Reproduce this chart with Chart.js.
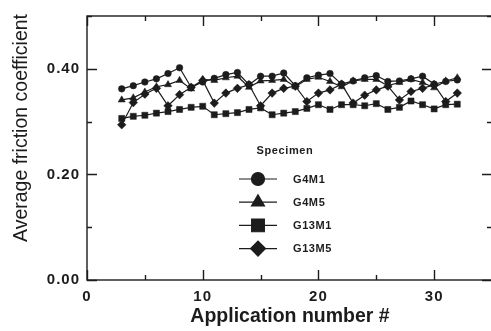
<!DOCTYPE html>
<html>
<head>
<meta charset="utf-8">
<script src="https://cdn.jsdelivr.net/npm/chart.js@4/dist/chart.umd.min.js"></script>
<style>
  html, body { margin: 0; padding: 0; background: #ffffff; overflow: hidden; }
  #wrap { width: 491px; height: 331px; overflow: hidden; position: relative; }
  #box { width: 500px; height: 331px; position: absolute; left: 0; top: 0; }
</style>
</head>
<body>
<div id="wrap"><div id="box"><canvas id="c"></canvas></div></div>
<script>
// Application numbers (x) and average friction coefficient per specimen
const applications = [3, 4, 5, 6, 7, 8, 9, 10, 11, 12, 13, 14, 15, 16, 17,
                      18, 19, 20, 21, 22, 23, 24, 25, 26, 27, 28, 29, 30, 31, 32];

const g4m1 = [0.362, 0.368, 0.375, 0.381, 0.391, 0.402, 0.365, 0.375, 0.382, 0.389,
              0.393, 0.370, 0.386, 0.386, 0.392, 0.368, 0.383, 0.388, 0.391, 0.371,
              0.377, 0.383, 0.387, 0.376, 0.377, 0.381, 0.386, 0.371, 0.376, 0.379];

const g4m5 = [0.341, 0.345, 0.356, 0.366, 0.370, 0.378, 0.362, 0.380, 0.378, 0.383,
              0.386, 0.365, 0.377, 0.378, 0.380, 0.366, 0.380, 0.384, 0.376, 0.366,
              0.377, 0.380, 0.380, 0.368, 0.374, 0.380, 0.374, 0.364, 0.377, 0.383];

const g13m1 = [0.306, 0.310, 0.312, 0.316, 0.319, 0.323, 0.327, 0.329, 0.313, 0.315,
               0.317, 0.323, 0.326, 0.313, 0.316, 0.319, 0.325, 0.332, 0.323, 0.332,
               0.332, 0.330, 0.334, 0.323, 0.327, 0.339, 0.332, 0.324, 0.332, 0.333];

const g13m5 = [0.294, 0.336, 0.352, 0.363, 0.330, 0.351, 0.365, 0.378, 0.335, 0.354,
               0.363, 0.370, 0.330, 0.354, 0.363, 0.367, 0.338, 0.354, 0.360, 0.371,
               0.335, 0.350, 0.360, 0.367, 0.341, 0.357, 0.363, 0.370, 0.338, 0.354];

const specimenNames = ['G4M1', 'G4M5', 'G13M1', 'G13M5'];
const specimenValues = [g4m1, g4m5, g13m1, g13m5];
const specimenMarkers = ['circle', 'triangle', 'rect', 'rectRot'];

const xTickValues = [0, 5, 10, 15, 20, 25, 30, 35];
const yTickValues = [0, 0.1, 0.2, 0.3, 0.4, 0.5];

const INK = '#1c1c1c';
const FONT = '"Liberation Sans", Arial, Helvetica, sans-serif';
const markerRadius = { circle: 3.3, triangle: 4.1, rect: 4.3, rectRot: 4.3 };
const legendRadius = { circle: 6.5, triangle: 7.5, rect: 9, rectRot: 7.5 };

const datasets = specimenNames.map((name, i) => ({
  label: name,
  data: applications.map((a, j) => ({ x: a, y: specimenValues[i][j] })),
  borderColor: INK,
  borderWidth: 1.2,
  backgroundColor: INK,
  pointStyle: specimenMarkers[i],
  pointRadius: markerRadius[specimenMarkers[i]],
  pointBackgroundColor: INK,
  pointBorderColor: INK,
  pointBorderWidth: 0.5,
  tension: 0,
  fill: false
}));

// Slightly spaced lettering for the tick labels
const spacing = {
  id: 'spacing',
  beforeDraw(chart) { chart.ctx.letterSpacing = '1px'; }
};

// Frame, inward tick marks, axis titles and the specimen key
const decorations = {
  id: 'decorations',
  afterDraw(chart) {
    const { ctx, chartArea: a, scales: { x, y } } = chart;
    ctx.save();
    ctx.strokeStyle = INK;
    ctx.lineWidth = 1.4;
    ctx.strokeRect(a.left, a.top, a.right - a.left, a.bottom - a.top);

    ctx.beginPath();
    xTickValues.forEach(v => {
      const px = Math.round(x.getPixelForValue(v)) + 0.5;
      const len = v % 10 === 0 ? 10 : 5;
      ctx.moveTo(px, a.bottom); ctx.lineTo(px, a.bottom - len);
      ctx.moveTo(px, a.top); ctx.lineTo(px, a.top + len);
    });
    yTickValues.forEach(v => {
      const py = Math.round(y.getPixelForValue(v)) + 0.5;
      const major = Math.round(v * 10) % 2 === 0;
      const len = major ? 10 : 5;
      ctx.moveTo(a.left, py); ctx.lineTo(a.left + len, py);
      ctx.moveTo(a.right, py); ctx.lineTo(a.right - len, py);
    });
    ctx.stroke();

    // axis titles
    ctx.letterSpacing = '0px';
    ctx.fillStyle = INK;
    ctx.font = 'bold 19.5px ' + FONT;
    ctx.textAlign = 'center';
    ctx.textBaseline = 'alphabetic';
    ctx.fillText('Application number #', 290, 322);

    ctx.save();
    ctx.translate(27, 128);
    ctx.rotate(-Math.PI / 2);
    ctx.font = '19.5px ' + FONT;
    ctx.fillText('Average friction coefficient', 0, 0);
    ctx.restore();

    // specimen key
    ctx.letterSpacing = '0.6px';
    ctx.font = 'bold 11px ' + FONT;
    ctx.textAlign = 'center';
    ctx.textBaseline = 'middle';
    ctx.fillText('Specimen', 285, 151);

    ctx.textAlign = 'left';
    chart.data.datasets.forEach((ds, i) => {
      const yy = 179 + i * 23.2;
      ctx.strokeStyle = INK;
      ctx.lineWidth = 1.2;
      ctx.beginPath();
      ctx.moveTo(239, yy); ctx.lineTo(277, yy);
      ctx.stroke();
      ctx.fillStyle = INK;
      Chart.helpers.drawPoint(ctx, {
        pointStyle: ds.pointStyle,
        radius: legendRadius[ds.pointStyle],
        rotation: 0,
        borderWidth: 0.5
      }, 258, yy);
      ctx.fillStyle = INK;
      ctx.fillText(ds.label, 293, yy + 0.5);
    });
    ctx.restore();
  }
};

new Chart(document.getElementById('c'), {
  type: 'line',
  data: { datasets },
  plugins: [spacing, decorations],
  options: {
    responsive: true,
    maintainAspectRatio: false,
    animation: false,
    events: [],
    layout: { padding: { top: 4, right: 7, left: 0, bottom: 0 } },
    plugins: { legend: { display: false }, tooltip: { enabled: false } },
    scales: {
      x: {
        type: 'linear',
        min: 0, max: 35,
        afterFit(s) { s.height = 51; },
        afterBuildTicks(s) { s.ticks = xTickValues.map(v => ({ value: v })); },
        grid: { display: false, drawTicks: false },
        border: { display: false },
        ticks: {
          padding: 8,
          color: INK,
          font: { family: FONT, size: 15, weight: 'bold' },
          callback: v => (v % 10 === 0 && v <= 30 ? String(v) : '')
        }
      },
      y: {
        type: 'linear',
        min: 0, max: 0.5,
        afterFit(s) { s.width = 87; },
        afterBuildTicks(s) { s.ticks = yTickValues.map(v => ({ value: v })); },
        grid: { display: false, drawTicks: false },
        border: { display: false },
        ticks: {
          padding: 7,
          color: INK,
          font: { family: FONT, size: 15, weight: 'bold' },
          callback: v => (Math.round(v * 10) % 2 === 0 && v < 0.45 ? v.toFixed(2) : '')
        }
      }
    }
  }
});
</script>
</body>
</html>
